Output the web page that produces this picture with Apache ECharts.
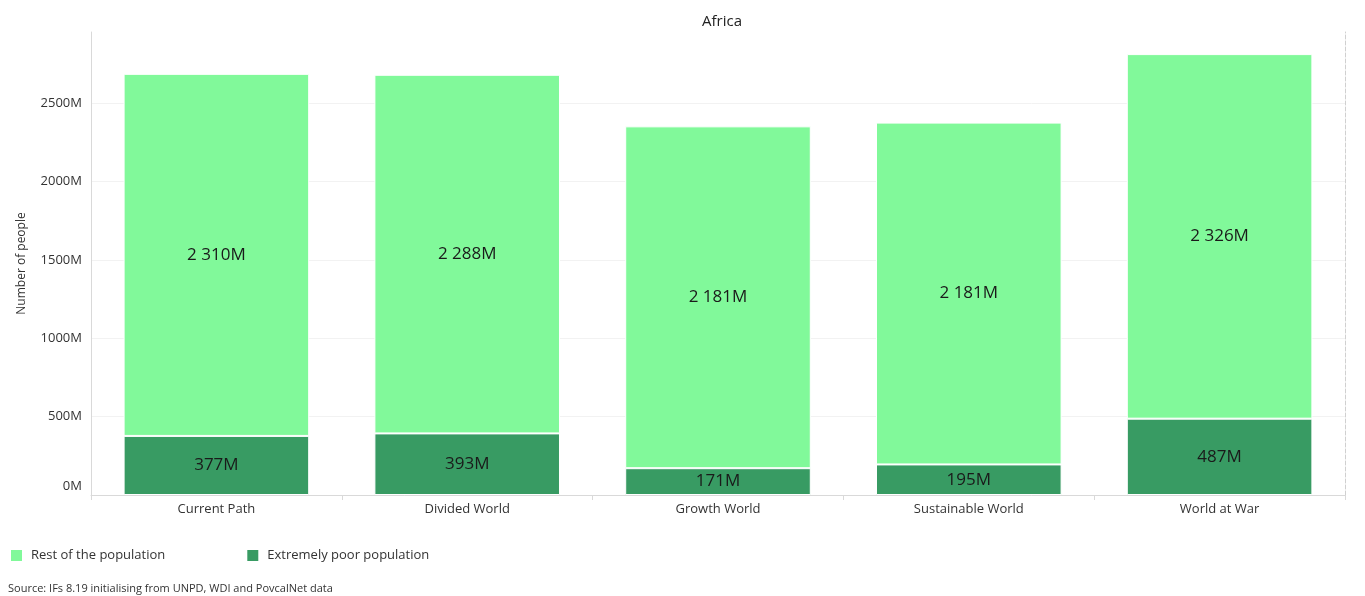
<!DOCTYPE html>
<html>
<head>
<meta charset="utf-8">
<script src="https://cdn.jsdelivr.net/npm/echarts@6/dist/echarts.min.js"></script>
<style>html,body{margin:0;padding:0;background:#fff}#c{width:1365px;height:596px}</style>
</head>
<body>
<div id="c"></div>
<script>
const categories = ['Current Path', 'Divided World', 'Growth World', 'Sustainable World', 'World at War'];
const extremelyPoor = [377, 393, 171, 195, 487];
const restOfPopulation = [2310, 2288, 2181, 2181, 2326];
const yTicks = ['0M', '500M', '1000M', '1500M', '2000M', '2500M'];
const yMax = 2954;

const FONT = '"Open Sans", "Noto Sans", sans-serif';
function fmt(v) {
  return String(v).replace(/\B(?=(\d{3})+(?!\d))/g, ' ') + 'M';
}
const chart = echarts.init(document.getElementById('c'));
chart.setOption({
  animation: false,
  textStyle: { fontFamily: FONT },
  title: {
    text: 'Africa', left: 717, textAlign: 'center', top: 9,
    textStyle: { fontSize: 15, fontWeight: 'normal', color: '#222', fontFamily: FONT }
  },
  legend: {
    left: 4, top: 543, itemWidth: 13, itemHeight: 13, itemGap: 80,
    icon: 'rect',
    textStyle: { fontSize: 13, color: '#333', fontFamily: FONT, padding: [0, 0, 0, 3] },
    data: ['Rest of the population', 'Extremely poor population']
  },
  graphic: [{
    type: 'text', left: 8, top: 583,
    style: { text: 'Source: IFs 8.19 initialising from UNPD, WDI and PovcalNet data', fontSize: 11, fill: '#333', fontFamily: FONT }
  }],
  grid: { left: 91, right: 20, top: 32, bottom: 101 },
  xAxis: {
    type: 'category', data: categories,
    axisLine: { lineStyle: { color: '#d9d9d9', width: 1 } },
    axisTick: { show: true, length: 5, lineStyle: { color: '#d9d9d9' } },
    axisLabel: { fontSize: 13, color: '#333', margin: 8, fontFamily: FONT }
  },
  yAxis: [{
    type: 'value', min: 0, max: yMax, interval: 500,
    name: 'Number of people', nameLocation: 'middle', nameGap: 63, nameRotate: 90,
    nameTextStyle: { fontSize: 12, color: '#333', fontFamily: FONT },
    axisLine: { show: true, lineStyle: { color: '#d9d9d9' } },
    axisTick: { show: false },
    splitLine: { showMaxLine: false, lineStyle: { color: '#f2f2f2' } },
    axisLabel: {
      fontSize: 13, color: '#333', margin: 9, showMaxLabel: false, fontFamily: FONT,
      formatter: v => {
        const i = v / 500;
        if (!Number.isInteger(i) || !yTicks[i]) return '';
        return i === 0 ? '{z|' + yTicks[i] + '}' : yTicks[i];
      },
      rich: { z: { fontSize: 13, color: '#333', fontFamily: FONT, padding: [0, 0, 18, 0] } }
    }
  }, {
    type: 'value', min: 0, max: yMax, position: 'right',
    axisLine: { show: true, lineStyle: { color: '#d0d0d0', type: 'dashed' } },
    axisTick: { show: false }, axisLabel: { show: false }, splitLine: { show: false }
  }],
  series: [{
    name: 'Extremely poor population', type: 'bar', stack: 'pop', data: extremelyPoor,
    barWidth: '74%',
    itemStyle: { color: '#389b63', borderColor: '#fff', borderWidth: 1 },
    label: { show: true, position: 'inside', fontSize: 17, color: '#1a1a1a', formatter: p => fmt(p.value), fontFamily: FONT }
  }, {
    name: 'Rest of the population', type: 'bar', stack: 'pop', data: restOfPopulation,
    barWidth: '74%',
    itemStyle: { color: '#81f99a', borderColor: '#fff', borderWidth: 1 },
    label: { show: true, position: 'inside', fontSize: 17, color: '#1a1a1a', formatter: p => fmt(p.value), fontFamily: FONT }
  }]
});
</script>
</body>
</html>
